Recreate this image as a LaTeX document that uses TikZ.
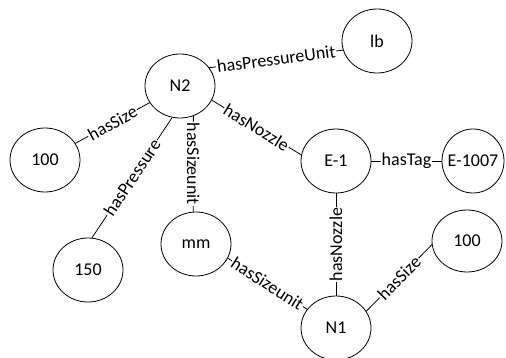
\documentclass[tikz,border=0pt]{standalone}
\usepackage{fontspec}
\setmainfont{Carlito}
\usetikzlibrary{shapes.geometric}
\begin{document}
\begin{tikzpicture}[x=1pt,y=-1pt,
  font=\fontsize{18}{21}\selectfont,
  entity/.style={draw, ellipse, line width=0.8pt, minimum width=70pt,
                 minimum height=64pt, inner sep=0pt},
  rel/.style={draw, line width=0.8pt},
  tag/.style={fill=white, inner sep=1pt, midway, sloped},
  vtag/.style={fill=white, inner sep=1pt, midway}]
\useasboundingbox (0,0) rectangle (506,358);

% entities
\node[entity] (N2)  at (180,86)  {N2};
\node[entity] (lb)  at (377,41)  {lb};
\node[entity] (sz1) at (45,160)  {100};
\node[entity] (pr)  at (88,270)  {150};
\node[entity] (mm)  at (196,244) {mm};
\node[entity] (E1)  at (336,161) {E-1};
\node[entity, minimum width=62pt] (E7) at (473,161) {\makebox[0pt]{E-1007}};
\node[entity] (N1)  at (336,328) {N1};
\node[entity, minimum height=62pt] (sz2) at (467,241) {100};

% relations
\draw[rel] (N2.32)  -- node[tag]{hasPressureUnit} (lb.195);
\draw[rel] (N2)     -- node[tag]{hasSize} (sz1);
\draw[rel] (N2.256) -- node[tag]{hasPressure} (pr.83);
\draw[rel] (N2.-66) -- node[vtag, rotate=-90]{hasSizeunit} (mm.95);
\draw[rel] (N2.-24) -- node[tag]{hasNozzle} (E1.170);
\draw[rel] (E1)     -- node[tag]{hasTag} (E7);
\draw[rel] (E1)     -- node[vtag, rotate=90]{hasNozzle} (N1);
\draw[rel] (mm.-24) -- node[tag]{hasSizeunit} (N1.147);
\draw[rel] (N1.29)  -- node[tag]{hasSize} (sz2.186);
\end{tikzpicture}
\end{document}
